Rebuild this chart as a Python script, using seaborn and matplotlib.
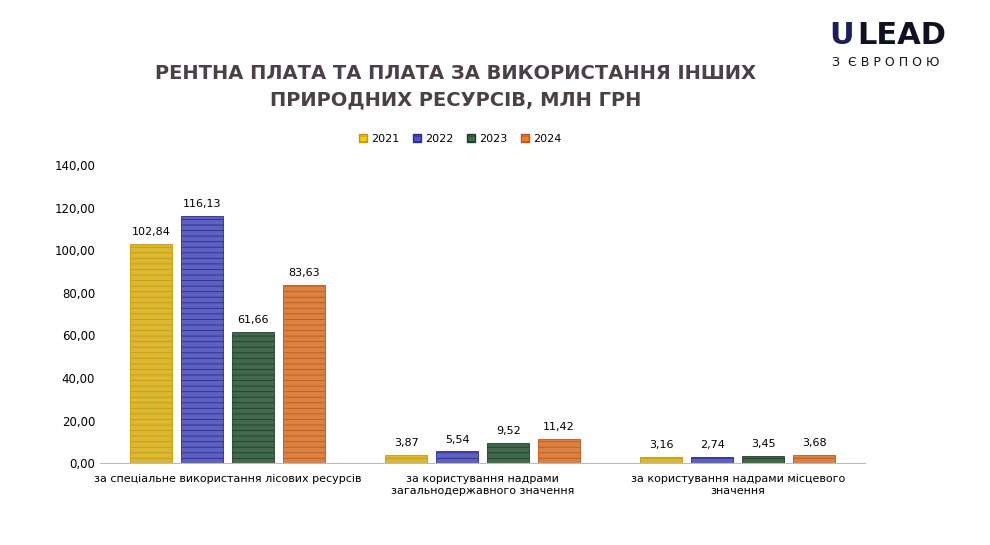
import matplotlib
matplotlib.use("Agg")
import matplotlib.pyplot as plt
import seaborn as sns
import pandas as pd

categories = ["за спеціальне використання лісових ресурсів",
              "за користування надрами\nзагальнодержавного значення",
              "за користування надрами місцевого\nзначення"]
years = ["2021", "2022", "2023", "2024"]
v2021 = [102.84, 3.87, 3.16]
v2022 = [116.13, 5.54, 2.74]
v2023 = [61.66, 9.52, 3.45]
v2024 = [83.63, 11.42, 3.68]

colors = ["#F5C81A", "#4E52D0", "#3B7049", "#F47E2A"]
edges = ["#C89A00", "#2A2C90", "#1E4028", "#C0561A"]

rows = []
for y, vals in zip(years, [v2021, v2022, v2023, v2024]):
    for c, v in zip(categories, vals):
        rows.append({"cat": c, "year": y, "val": v})
df = pd.DataFrame(rows)

plt.rcParams["font.family"] = "DejaVu Sans"
plt.rcParams["hatch.linewidth"] = 0.6
fig = plt.figure(figsize=(9.9, 5.45), dpi=100)
ax = fig.add_axes([0.101, 0.150, 0.773, 0.547])
sns.barplot(data=df, x="cat", y="val", hue="year", palette=colors, ax=ax,
            width=0.8, gap=0.18, legend=False)
for i, cont in enumerate(ax.containers):
    for b in cont:
        b.set_hatch("---")
        b.set_edgecolor(edges[i])
        b.set_linewidth(0.6)
    ax.bar_label(cont, labels=[f"{v:.2f}".replace(".", ",") for v in cont.datavalues],
                 padding=5, fontsize=8)

ax.set_ylim(0, 140)
ax.set_yticks(range(0, 141, 20))
ax.set_yticklabels([f"{t},00" for t in range(0, 141, 20)], fontsize=8.5)
ax.tick_params(axis="x", labelsize=8, length=0, pad=8)
ax.tick_params(axis="y", length=0)
ax.set_xlabel(""); ax.set_ylabel("")
for s in ["top", "right", "left"]:
    ax.spines[s].set_visible(False)
ax.spines["bottom"].set_color("#BBBBBB")
ax.set_xlim(-0.5, 2.5)

fig.text(0.46, 0.84, "РЕНТНА ПЛАТА ТА ПЛАТА ЗА ВИКОРИСТАННЯ ІНШИХ\nПРИРОДНИХ РЕСУРСІВ, МЛН ГРН",
         ha="center", va="center", fontsize=14, fontweight="bold", color="#4A4046",
         linespacing=1.5)
from matplotlib.patches import Patch
handles = [Patch(facecolor=c, edgecolor=e, hatch="---") for c, e in zip(colors, edges)]
fig.legend(handles, years, loc="center", bbox_to_anchor=(0.465, 0.745), ncol=4,
           frameon=False, fontsize=8, handlelength=0.7, handleheight=0.7, columnspacing=1.2,
           handletextpad=0.4)

fig.text(0.838, 0.935, "U", fontsize=22, fontweight="bold", color="#1B1F5A", va="center")
fig.text(0.866, 0.935, "LEAD", fontsize=22, fontweight="bold", color="#111122", va="center")
fig.text(0.84, 0.885, "З  Є В Р О П О Ю", fontsize=9, color="#111122", va="center")
fig.savefig("out.png", dpi=100, facecolor="white")
